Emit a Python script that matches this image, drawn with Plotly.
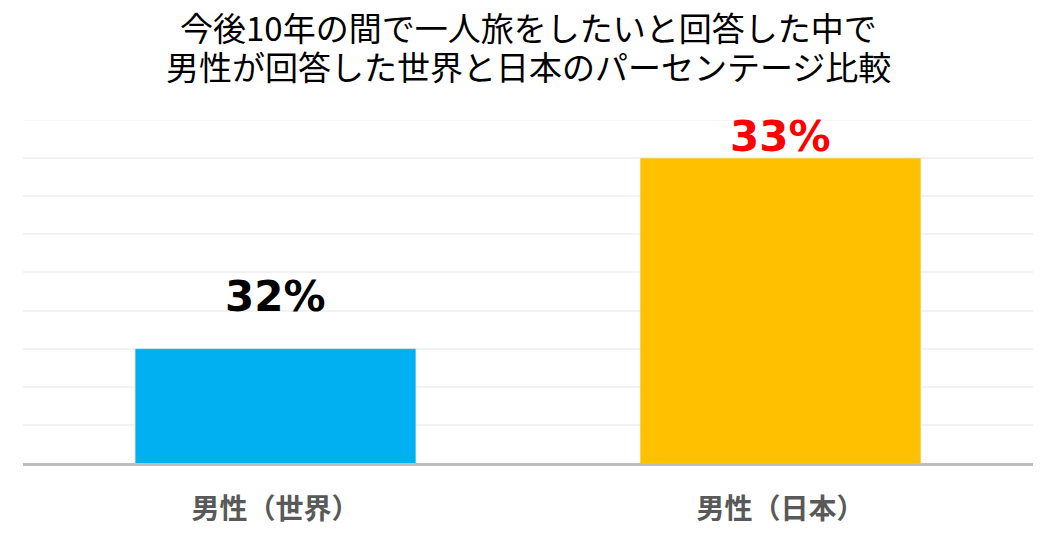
import plotly.graph_objects as go

# data
categories = ["男性（世界）", "男性（日本）"]
values = [32.0, 33.0]
labels = ["32%", "33%"]
bar_colors = ["#00B0F0", "#FFC000"]
label_colors = ["#000000", "#FF0000"]
title_lines = ["今後10年の間で一人旅をしたいと回答した中で", "男性が回答した世界と日本のパーセンテージ比較"]
y_min, y_max, y_step = 31.4, 33.2, 0.2

fig = go.Figure()
fig.add_trace(go.Bar(x=categories, y=values, marker_color=bar_colors, width=0.556, hoverinfo="skip"))

# value labels above bars (offsets differ in the original)
label_shift = [26, -5]
for cat, val, lab, col, sh in zip(categories, values, labels, label_colors, label_shift):
    fig.add_annotation(x=cat, y=val, text=lab, showarrow=False, yanchor="bottom", yshift=sh,
                       font=dict(family="DejaVu Sans", size=42, color=col, weight="bold"))

# two-line title
for i, line in enumerate(title_lines):
    fig.add_annotation(x=0.5, y=1, xref="paper", yref="paper", text=line, showarrow=False,
                       yanchor="middle", yshift=[93, 54][i],
                       font=dict(family="Noto Sans CJK JP", size=33, color="#000000"))

# top gridline sits on the edge of the plot area, plotly skips it
fig.add_shape(type="line", xref="paper", yref="y", x0=0, x1=1, y0=y_max, y1=y_max,
              line=dict(color="#F2F2F2", width=1.5), layer="below")

fig.update_layout(
    width=1056, height=554,
    margin=dict(l=15, r=31, t=112, b=99),
    plot_bgcolor="white", paper_bgcolor="white",
    showlegend=False,
    font=dict(family="Noto Sans CJK JP"),
)
fig.update_xaxes(
    showline=True, linecolor="#BFBFBF", linewidth=2.5,
    ticks="outside", ticklen=20, tickcolor="rgba(0,0,0,0)",
    tickfont=dict(family="Noto Sans CJK JP", size=28, color="#595959", weight="bold"),
)
fig.update_yaxes(
    range=[y_min, y_max], dtick=y_step, tick0=y_min, showticklabels=False,
    gridcolor="#F2F2F2", gridwidth=1.5, zeroline=False,
)

fig.write_html("out.html")
